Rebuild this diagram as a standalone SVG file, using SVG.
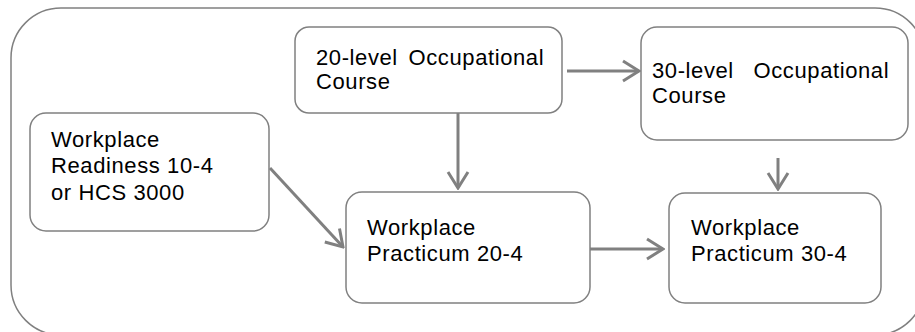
<svg xmlns="http://www.w3.org/2000/svg" width="915" height="332" viewBox="0 0 915 332">
<defs>
<style>
.box{fill:#fff;stroke:#808080;stroke-width:1.5}
.frame{fill:#fff;stroke:#808080;stroke-width:1.5}
.t{font-family:"Liberation Sans",Arial,sans-serif;font-size:22px;fill:#000;letter-spacing:0.6px}
.c{stroke:#808080;stroke-width:3;fill:none}
</style>
<marker id="arr" viewBox="0 0 20 24" refX="18" refY="12" markerWidth="20" markerHeight="24" markerUnits="userSpaceOnUse" orient="auto">
<path d="M2,2 L18,12 L2,22" fill="none" stroke="#808080" stroke-width="3"/>
</marker>
</defs>
<rect class="frame" x="11" y="8" width="914" height="327" rx="50" ry="50"/>
<g id="node-20level">
<rect class="box" x="295" y="27" width="267" height="86" rx="14"/>
<text class="t" x="316" y="65" word-spacing="4">20-level Occupational</text>
<text class="t" x="316" y="89">Course</text>
</g>
<g id="node-30level">
<rect class="box" x="641" y="27" width="267" height="113" rx="16"/>
<text class="t" x="652" y="78" word-spacing="13">30-level Occupational</text>
<text class="t" x="652" y="103">Course</text>
</g>
<g id="node-readiness">
<rect class="box" x="30" y="113" width="239" height="118" rx="16"/>
<text class="t" x="51" y="147">Workplace</text>
<text class="t" x="51" y="173">Readiness 10-4</text>
<text class="t" x="51" y="200">or HCS 3000</text>
</g>
<g id="node-practicum20">
<rect class="box" x="346" y="192" width="244" height="111" rx="16"/>
<text class="t" x="367" y="235">Workplace</text>
<text class="t" x="367" y="261">Practicum 20-4</text>
</g>
<g id="node-practicum30">
<rect class="box" x="669" y="193" width="212" height="110" rx="16"/>
<text class="t" x="691" y="235">Workplace</text>
<text class="t" x="691" y="261">Practicum 30-4</text>
</g>
<g id="connectors">
<line class="c" x1="567" y1="71" x2="639" y2="71" marker-end="url(#arr)"/>
<line class="c" x1="458" y1="113" x2="458" y2="188" marker-end="url(#arr)"/>
<line class="c" x1="778" y1="158" x2="778" y2="189" marker-end="url(#arr)"/>
<line class="c" x1="270" y1="168" x2="343" y2="247" marker-end="url(#arr)"/>
<line class="c" x1="590" y1="249" x2="663" y2="249" marker-end="url(#arr)"/>
</g>
</svg>
